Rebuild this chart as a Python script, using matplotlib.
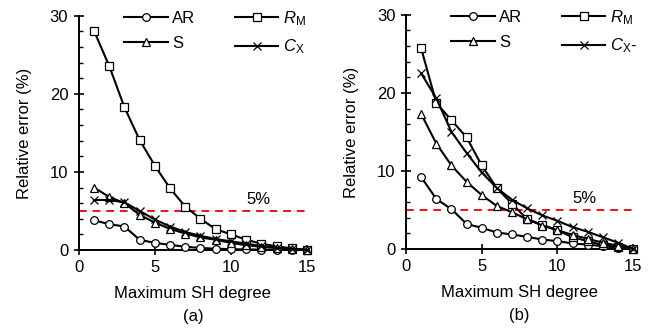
import numpy as np
import matplotlib.pyplot as plt
from matplotlib.ticker import MultipleLocator

plt.rcParams['font.family'] = ['Liberation Sans', 'DejaVu Sans']
plt.rcParams['font.size'] = 12
plt.rcParams['mathtext.fontset'] = 'custom'
plt.rcParams['mathtext.it'] = 'Liberation Sans:italic'
plt.rcParams['mathtext.rm'] = 'Liberation Sans'

degree = np.arange(1, 16)

# panel (a)
a_AR = [3.8, 3.3, 3.0, 1.3, 0.9, 0.65, 0.4, 0.25, 0.15, 0.1, 0.06, 0.04, 0.02, 0.01, 0.0]
a_RM = [28.1, 23.6, 18.3, 14.1, 10.8, 7.9, 5.55, 4.0, 2.65, 2.0, 1.3, 0.8, 0.45, 0.2, 0.0]
a_S = [8.0, 6.8, 6.0, 4.5, 3.5, 2.7, 2.1, 1.6, 1.3, 0.9, 0.6, 0.4, 0.25, 0.1, 0.0]
a_CX = [6.4, 6.4, 6.1, 5.0, 3.9, 3.0, 2.3, 1.8, 1.4, 1.1, 0.8, 0.5, 0.3, 0.15, 0.0]

# panel (b)
b_AR = [9.2, 6.4, 5.1, 3.2, 2.7, 2.1, 1.85, 1.55, 1.2, 1.0, 0.7, 0.55, 0.35, 0.15, 0.0]
b_RM = [25.7, 18.7, 16.5, 14.3, 10.7, 7.8, 5.8, 3.8, 3.1, 2.4, 1.5, 1.0, 0.5, 0.25, 0.0]
b_S = [17.3, 13.5, 10.7, 8.6, 6.9, 5.5, 4.7, 3.8, 3.0, 2.4, 1.8, 1.3, 0.8, 0.4, 0.0]
b_CX = [22.5, 19.3, 15.0, 12.3, 9.8, 7.8, 6.3, 5.2, 4.3, 3.6, 2.8, 2.2, 1.5, 0.8, 0.0]

threshold = 5

fig = plt.figure(figsize=(6.56, 3.31), dpi=100)
ax1 = fig.add_axes([0.120, 0.245, 0.348, 0.707])
ax2 = fig.add_axes([0.619, 0.248, 0.346, 0.707])


def draw(ax, AR, RM, S, CX, tag, cx_label):
    kw = dict(color='black', lw=1.5, markersize=5.5, markerfacecolor='white',
              markeredgewidth=0.9, clip_on=False, zorder=3)
    l_ar, = ax.plot(degree, AR, marker='o', label='AR', **kw)
    l_rm, = ax.plot(degree, RM, marker='s', label=r'$R_{\mathrm{M}}$', **kw)
    l_s, = ax.plot(degree, S, marker='^', label='S', **kw)
    l_cx, = ax.plot(degree, CX, marker='x', label=cx_label, **kw)
    ax.plot([0, 15], [threshold, threshold], color='#e8141c', lw=1.4, ls=(0, (4, 3)), zorder=2)
    ax.text(11.8, 6.4, '5%', ha='center', va='center', fontsize=12)

    ax.set_xlim(0, 15)
    ax.set_ylim(0, 30)
    ax.xaxis.set_major_locator(MultipleLocator(5))
    ax.yaxis.set_major_locator(MultipleLocator(10))
    ax.yaxis.set_minor_locator(MultipleLocator(2))
    ax.tick_params(which='major', direction='inout', length=7, width=1.2, pad=4)
    ax.tick_params(which='minor', direction='in', length=3, width=1.0)
    ax.tick_params(axis='x', which='minor', length=0)
    for side in ['top', 'right']:
        ax.spines[side].set_visible(False)
    for side in ['left', 'bottom']:
        ax.spines[side].set_linewidth(1.4)
    ax.set_ylabel('Relative error (%)', labelpad=13)
    ax.set_xlabel('Maximum SH degree\n' + tag, linespacing=1.6, labelpad=8)

    ax.legend([l_ar, l_s, l_rm, l_cx], ['AR', 'S', r'$R_{\mathrm{M}}$', cx_label],
              ncol=2, loc='upper left', bbox_to_anchor=(0.2, 1.03), frameon=False,
              handlelength=2.6, handletextpad=0.25, columnspacing=2.4,
              labelspacing=0.6, borderpad=0, borderaxespad=0, fontsize=12)


draw(ax1, a_AR, a_RM, a_S, a_CX, '(a)', r'$C_{\mathrm{X}}$')
draw(ax2, b_AR, b_RM, b_S, b_CX, '(b)', r'$C_{\mathrm{X}}$' + '-')

fig.savefig('out.png', dpi=100)
